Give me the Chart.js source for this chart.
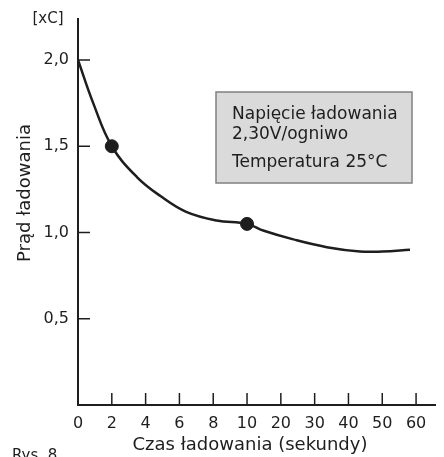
<!DOCTYPE html>
<html>
<head>
<meta charset="utf-8">
<script src="https://cdn.jsdelivr.net/npm/chart.js@4"></script>
<style>
  html, body { margin: 0; padding: 0; background: #fff; }
  #wrap { width: 444px; height: 457px; }
</style>
</head>
<body>
<div id="wrap"><canvas id="myChart" width="444" height="457"></canvas></div>
<script>
// charging current vs time
const tickLabels = ["0", "2", "4", "6", "8", "10", "20", "30", "40", "50", "60"];
const timeSec = [0, 0.9, 2, 3.5, 4.9, 6.4, 8.2, 10, 15, 23.7, 33.6, 43.4, 50, 58.2];
const current = [2.0, 1.75, 1.5, 1.32, 1.21, 1.12, 1.07, 1.05, 1.01, 0.96, 0.915, 0.89, 0.89, 0.9];
const markerSec = [2, 10];
const markerCurrent = [1.5, 1.05];
const yTicks = [0.5, 1.0, 1.5, 2.0];

// axis is broken: 0..10 s in steps of 2, then 10..60 s in steps of 10, same spacing
const toPos = (s) => (s <= 10 ? s / 2 : 5 + (s - 10) / 10);

const ink = "#1e1e1e";
const font = "DejaVu Sans";

const decor = {
    id: "decor",
    afterDraw(chart) {
        const { ctx, scales } = chart;
        const x = scales.x;
        const y = scales.y;
        ctx.save();
        ctx.strokeStyle = ink;
        ctx.lineWidth = 1.5;
        // inward tick marks
        tickLabels.forEach((t, i) => {
            if (i === 0) return;
            const px = x.getPixelForValue(i);
            ctx.beginPath();
            ctx.moveTo(px, y.bottom);
            ctx.lineTo(px, y.bottom - 12);
            ctx.stroke();
        });
        yTicks.forEach((v) => {
            const py = y.getPixelForValue(v);
            ctx.beginPath();
            ctx.moveTo(x.left, py);
            ctx.lineTo(x.left + 12, py);
            ctx.stroke();
        });

        // info box
        ctx.fillStyle = "#dadada";
        ctx.fillRect(216, 92, 196, 91);
        ctx.strokeStyle = "#808080";
        ctx.lineWidth = 1.5;
        ctx.strokeRect(216, 92, 196, 91);
        ctx.fillStyle = ink;
        ctx.font = "17px '" + font + "'";
        ctx.textAlign = "left";
        ctx.textBaseline = "alphabetic";
        ctx.fillText("Napięcie ładowania", 232, 119);
        ctx.fillText("2,30V/ogniwo", 232, 139);
        ctx.fillText("Temperatura 25°C", 232, 167);

        // titles
        ctx.font = "15px '" + font + "'";
        ctx.textAlign = "center";
        ctx.textBaseline = "middle";
        ctx.fillText("[xC]", 48, 19);
        ctx.font = "18px '" + font + "'";
        ctx.fillText("Czas ładowania (sekundy)", 250, 445);
        ctx.save();
        ctx.translate(25, 193);
        ctx.rotate(-Math.PI / 2);
        ctx.fillText("Prąd ładowania", 0, 0);
        ctx.restore();
        ctx.font = "15px '" + font + "'";
        ctx.textAlign = "left";
        ctx.textBaseline = "top";
        ctx.fillText("Rys. 8", 12, 449);
        ctx.restore();
    },
};

const ctx = document.getElementById("myChart");
new Chart(ctx, {
    type: "scatter",
    data: {
        datasets: [
            {
                data: timeSec.map((s, i) => ({ x: toPos(s), y: current[i] })),
                showLine: true,
                borderColor: ink,
                borderWidth: 2.5,
                pointRadius: 0,
                tension: 0.4,
            },
            {
                data: markerSec.map((s, i) => ({ x: toPos(s), y: markerCurrent[i] })),
                showLine: false,
                pointRadius: 6.5,
                backgroundColor: ink,
                borderColor: ink,
            },
        ],
    },
    plugins: [decor],
    options: {
        responsive: false,
        animation: false,
        layout: { padding: { left: 0, top: 15, right: 9, bottom: 0 } },
        plugins: { legend: { display: false }, tooltip: { enabled: false } },
        scales: {
            x: {
                type: "linear",
                min: 0,
                max: 10.56,
                afterFit: (scale) => { scale.height = 52; },
                afterBuildTicks: (scale) => {
                    scale.ticks = tickLabels.map((t, i) => ({ value: i }));
                },
                ticks: {
                    padding: 9,
                    color: ink,
                    font: { family: font, size: 16 },
                    callback: (v, i) => tickLabels[i],
                },
                grid: { drawOnChartArea: false, drawTicks: false },
                border: { color: ink, width: 2 },
            },
            y: {
                min: 0,
                max: 2.24,
                afterFit: (scale) => { scale.width = 78; },
                afterBuildTicks: (scale) => {
                    scale.ticks = yTicks.map((v) => ({ value: v }));
                },
                ticks: {
                    padding: 9,
                    color: ink,
                    font: { family: font, size: 16 },
                    callback: (v) => v.toFixed(1).replace(".", ","),
                },
                grid: { drawOnChartArea: false, drawTicks: false },
                border: { color: ink, width: 2 },
            },
        },
    },
});
</script>
</body>
</html>
